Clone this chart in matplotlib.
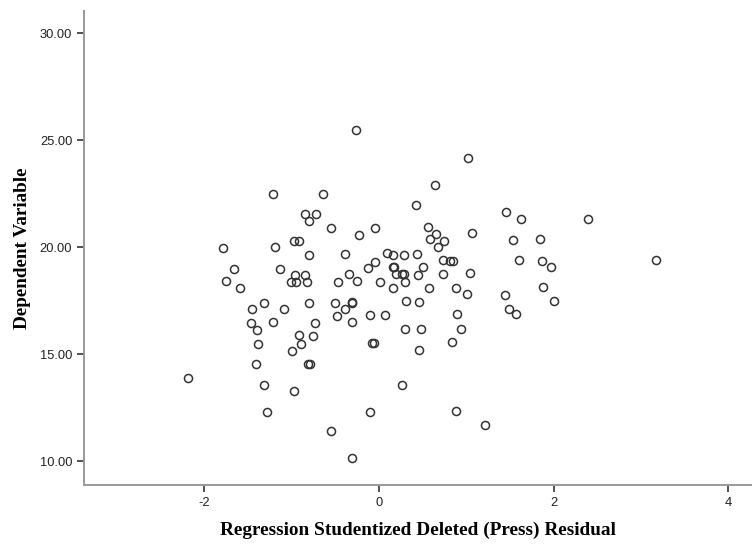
import matplotlib
matplotlib.use("Agg")
import matplotlib.pyplot as plt

residual = [-0.26, -1.21, -0.64, -0.84, -0.72, -0.80, -0.55, -0.22, -1.78, -1.18,
            -0.97, -0.91, -0.80, -0.39, -1.66, -1.13, -0.96, -0.84, -0.34, -0.12,
            -1.75, -1.00, -0.94, -0.82, -0.46, -0.25, -1.59, -1.31, -0.80, -0.50,
            -0.31, -0.30, -1.45, -1.08, -0.38, -0.48, -0.31, -0.10, 0.07, -1.46,
            -1.21, -0.73, -1.39, -0.91, -0.75, -1.38, -0.89, -0.99, -0.08, -0.05,
            -1.40, -0.81, -0.79, -2.18, -1.31, -0.97, -1.28, -0.55, -0.30, -0.10,
            0.27, 0.88, 1.22, 0.30, 0.48, 0.94, 0.84, 0.46, 0.90, 1.49,
            1.57, 0.31, 0.46, 2.01, 1.44, 1.01, 1.88, 0.16, 0.58, 0.88,
            0.02, 0.30, 0.20, 0.27, 0.29, 0.45, 0.74, 1.05, 0.16, 0.17,
            0.51, 1.97, -0.04, 0.74, 0.82, 0.85, 1.60, 1.87, 0.09, 0.16,
            0.29, 0.44, 1.54, 1.84, 0.68, 0.75, 0.59, 0.66, 1.07, -0.04,
            0.56, 1.63, 1.46, 0.43, 0.64, 1.02, 2.39, 3.17]
dependent = [25.45, 22.49, 22.49, 21.54, 21.54, 21.21, 20.90, 20.57, 19.95, 20.00,
             20.27, 20.27, 19.63, 19.66, 18.99, 18.99, 18.68, 18.68, 18.74, 19.03,
             18.40, 18.35, 18.35, 18.35, 18.35, 18.40, 18.08, 17.40, 17.40, 17.40,
             17.40, 17.42, 17.09, 17.09, 17.09, 16.78, 16.48, 16.81, 16.81, 16.45,
             16.48, 16.45, 16.11, 15.87, 15.86, 15.48, 15.48, 15.15, 15.50, 15.50,
             14.53, 14.53, 14.53, 13.89, 13.57, 13.26, 12.29, 11.39, 10.13, 12.29,
             13.57, 12.35, 11.70, 16.15, 16.15, 16.15, 15.57, 15.20, 16.86, 17.12,
             16.86, 17.49, 17.44, 17.49, 17.77, 17.82, 18.13, 18.08, 18.08, 18.08,
             18.35, 18.38, 18.74, 18.74, 18.74, 18.69, 18.74, 18.77, 19.08, 19.06,
             19.05, 19.08, 19.31, 19.39, 19.35, 19.35, 19.41, 19.36, 19.72, 19.64,
             19.63, 19.67, 20.31, 20.37, 20.00, 20.28, 20.37, 20.62, 20.67, 20.90,
             20.95, 21.31, 21.64, 21.95, 22.90, 24.17, 21.31, 19.39]

x_ticks = [-2, 0, 2, 4]
y_ticks = [10, 15, 20, 25, 30]
y_tick_labels = ["10.00", "15.00", "20.00", "25.00", "30.00"]

fig = plt.figure(figsize=(7.52, 5.44), dpi=100)
ax = fig.add_axes([84/752, (544-485)/544, 1 - 84/752, (485-11)/544])

ax.plot(residual, dependent, linestyle="none", marker="o", markersize=5.8,
        markerfacecolor="none", markeredgecolor="#333333", markeredgewidth=1.1)

ax.set_xlim(-3.37, 4.27)
ax.set_ylim(8.88, 31.03)
ax.set_xticks(x_ticks)
ax.set_xticklabels([str(t) for t in x_ticks])
ax.set_yticks(y_ticks)
ax.set_yticklabels(y_tick_labels)

for s in ["top", "right"]:
    ax.spines[s].set_visible(False)
for s in ["left", "bottom"]:
    ax.spines[s].set_color("#999999")
    ax.spines[s].set_linewidth(1.4)

ax.tick_params(axis="both", direction="out", length=5, width=1.2, color="#333333",
               labelsize=9.3, labelcolor="#222222")
for lab in ax.get_xticklabels() + ax.get_yticklabels():
    lab.set_fontfamily("Liberation Sans")

ax.set_xlabel("Regression Studentized Deleted (Press) Residual",
              fontfamily="Liberation Serif", fontweight="bold", fontsize=13.9, labelpad=9)
ax.set_ylabel("Dependent Variable",
              fontfamily="Liberation Serif", fontweight="bold", fontsize=13.8, labelpad=6)

fig.savefig("out.png", dpi=100)
